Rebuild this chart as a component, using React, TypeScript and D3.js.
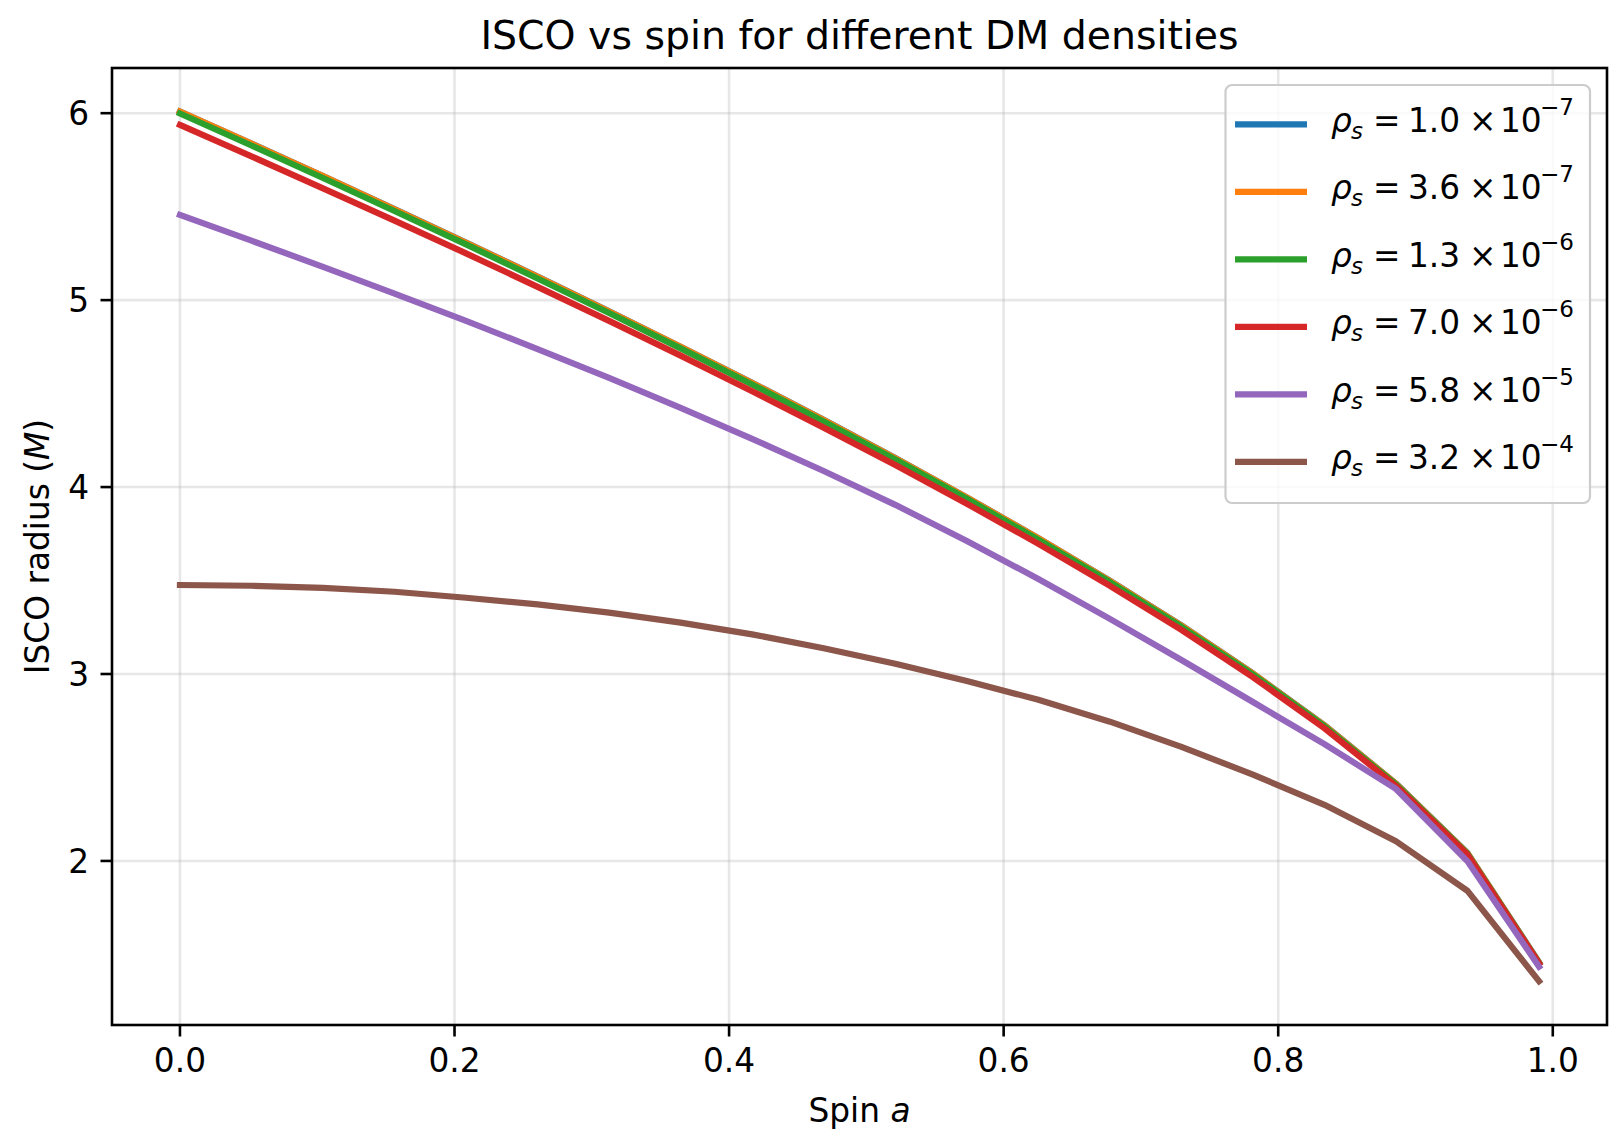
import * as d3 from 'd3';

// spin grid (20 points from 0 to 0.99)
const spins = [0, 0.0521, 0.1042, 0.1563, 0.2084, 0.2605, 0.3126, 0.3647, 0.4168, 0.4689, 0.5211, 0.5732, 0.6253, 0.6774, 0.7295, 0.7816, 0.8337, 0.8858, 0.9379, 0.99];

const isco1e7 = [6.009, 5.838, 5.664, 5.487, 5.308, 5.126, 4.94, 4.751, 4.558, 4.36, 4.155, 3.945, 3.727, 3.499, 3.26, 3.003, 2.726, 2.414, 2.042, 1.457];
const isco36e7 = [6.008, 5.837, 5.663, 5.486, 5.307, 5.125, 4.939, 4.75, 4.557, 4.359, 4.154, 3.944, 3.726, 3.498, 3.259, 3.002, 2.725, 2.413, 2.041, 1.456];
const isco13e6 = [5.998, 5.827, 5.653, 5.477, 5.298, 5.116, 4.931, 4.742, 4.549, 4.351, 4.147, 3.937, 3.719, 3.492, 3.253, 2.997, 2.72, 2.409, 2.038, 1.454];
const isco7e6 = [5.937, 5.769, 5.598, 5.425, 5.25, 5.071, 4.889, 4.703, 4.513, 4.318, 4.118, 3.911, 3.696, 3.472, 3.236, 2.983, 2.71, 2.402, 2.034, 1.452];
const isco58e5 = [5.456, 5.318, 5.178, 5.035, 4.889, 4.738, 4.584, 4.424, 4.258, 4.086, 3.905, 3.712, 3.508, 3.295, 3.075, 2.85, 2.625, 2.385, 1.998, 1.434];
const isco32e4 = [3.476, 3.472, 3.461, 3.44, 3.408, 3.372, 3.328, 3.275, 3.212, 3.138, 3.055, 2.963, 2.862, 2.745, 2.61, 2.462, 2.3, 2.105, 1.84, 1.357];

const mantissas = ['1.0', '3.6', '1.3', '7.0', '5.8', '3.2'];
const exponents = ['−7', '−7', '−6', '−6', '−5', '−4'];
const seriesValues = [isco1e7, isco36e7, isco13e6, isco7e6, isco58e5, isco32e4];
const colors = ['#1f77b4', '#ff7f0e', '#2ca02c', '#d62728', '#9467bd', '#8c564b'];

const xTicks = [0, 0.2, 0.4, 0.6, 0.8, 1.0];
const yTicks = [2, 3, 4, 5, 6];

const W = 1622;
const H = 1146;
const margin = { top: 68, right: 15, bottom: 121, left: 112 };
const FS = 32.8;
const FONT = '"DejaVu Sans", sans-serif';

export default function App() {
  const x = d3.scaleLinear().domain([-0.0495, 1.0395]).range([margin.left, W - margin.right]);
  const y = d3.scaleLinear().domain([1.1224, 6.2417]).range([H - margin.bottom, margin.top]);

  const line = d3
    .line<number>()
    .x((_, i) => x(spins[i]))
    .y((d) => y(d));

  const x0 = margin.left;
  const x1 = W - margin.right;
  const y0 = margin.top;
  const y1 = H - margin.bottom;

  // legend box
  const lg = { x: 1225.5, y: 85, w: 364.5, h: 418, row: 67.5 };
  const tx = 1331; // legend text start

  return (
    <div style={{ position: 'absolute', left: 0, top: 0 }}>
      <svg width={W} height={H} style={{ display: 'block', background: '#fff' }} fontFamily={FONT}>
        {/* grid */}
        {xTicks.map((t) => (
          <line key={'gx' + t} x1={x(t)} x2={x(t)} y1={y0} y2={y1} stroke="#b0b0b0" strokeOpacity={0.3} strokeWidth={2.6} />
        ))}
        {yTicks.map((t) => (
          <line key={'gy' + t} x1={x0} x2={x1} y1={y(t)} y2={y(t)} stroke="#b0b0b0" strokeOpacity={0.3} strokeWidth={2.6} />
        ))}

        {/* curves */}
        <g clipPath="url(#clip)">
          {seriesValues.map((vals, i) => (
            <path key={i} d={line(vals) || ''} fill="none" stroke={colors[i]} strokeWidth={6.2} strokeLinejoin="round" strokeLinecap="square" />
          ))}
        </g>
        <defs>
          <clipPath id="clip">
            <rect x={x0} y={y0} width={x1 - x0} height={y1 - y0} />
          </clipPath>
        </defs>

        {/* spines */}
        <rect x={x0} y={y0} width={x1 - x0} height={y1 - y0} fill="none" stroke="#000" strokeWidth={2.6} />

        {/* x ticks */}
        {xTicks.map((t) => (
          <g key={'xt' + t}>
            <line x1={x(t)} x2={x(t)} y1={y1} y2={y1 + 11.5} stroke="#000" strokeWidth={2.6} />
            <text x={x(t)} y={y1 + 47} fontSize={FS} textAnchor="middle" fill="#000">
              {t.toFixed(1)}
            </text>
          </g>
        ))}

        {/* y ticks */}
        {yTicks.map((t) => (
          <g key={'yt' + t}>
            <line x1={x0 - 11.5} x2={x0} y1={y(t)} y2={y(t)} stroke="#000" strokeWidth={2.6} />
            <text x={x0 - 23} y={y(t)} dy="0.36em" fontSize={FS} textAnchor="end" fill="#000">
              {t}
            </text>
          </g>
        ))}

        {/* axis labels */}
        <text x={(x0 + x1) / 2} y={1122} fontSize={FS} textAnchor="middle" fill="#000">
          Spin <tspan fontStyle="italic">a</tspan>
        </text>
        <text
          transform={`translate(49,${(y0 + y1) / 2}) rotate(-90)`}
          fontSize={FS}
          textAnchor="middle"
          fill="#000"
        >
          ISCO radius (<tspan fontStyle="italic">M</tspan>)
        </text>

        {/* title */}
        <text x={(x0 + x1) / 2} y={49} fontSize={39.4} textAnchor="middle" fill="#000">
          ISCO vs spin for different DM densities
        </text>

        {/* legend */}
        <rect x={lg.x} y={lg.y} width={lg.w} height={lg.h} rx={6.5} fill="#fff" fillOpacity={0.8} stroke="#cccccc" strokeWidth={2.2} />
        {mantissas.map((m, i) => {
          const cy = lg.y + 39.3 + i * lg.row;
          const by = cy + 7.5;
          return (
            <g key={'lg' + i}>
              <line x1={1235} x2={1307} y1={cy} y2={cy} stroke={colors[i]} strokeWidth={6.2} />
              <text y={by} fontSize={FS} fill="#000">
                <tspan x={tx} fontStyle="italic">ρ</tspan>
                <tspan x={tx + 20} y={by + 7} fontStyle="italic" fontSize={23}>s</tspan>
                <tspan x={tx + 42} y={by}>=</tspan>
                <tspan x={tx + 77}>{m}</tspan>
                <tspan x={tx + 138}>×</tspan>
                <tspan x={tx + 169}>10</tspan>
                <tspan x={tx + 209} y={by - 17} fontSize={23}>{exponents[i]}</tspan>
              </text>
            </g>
          );
        })}
      </svg>
    </div>
  );
}
